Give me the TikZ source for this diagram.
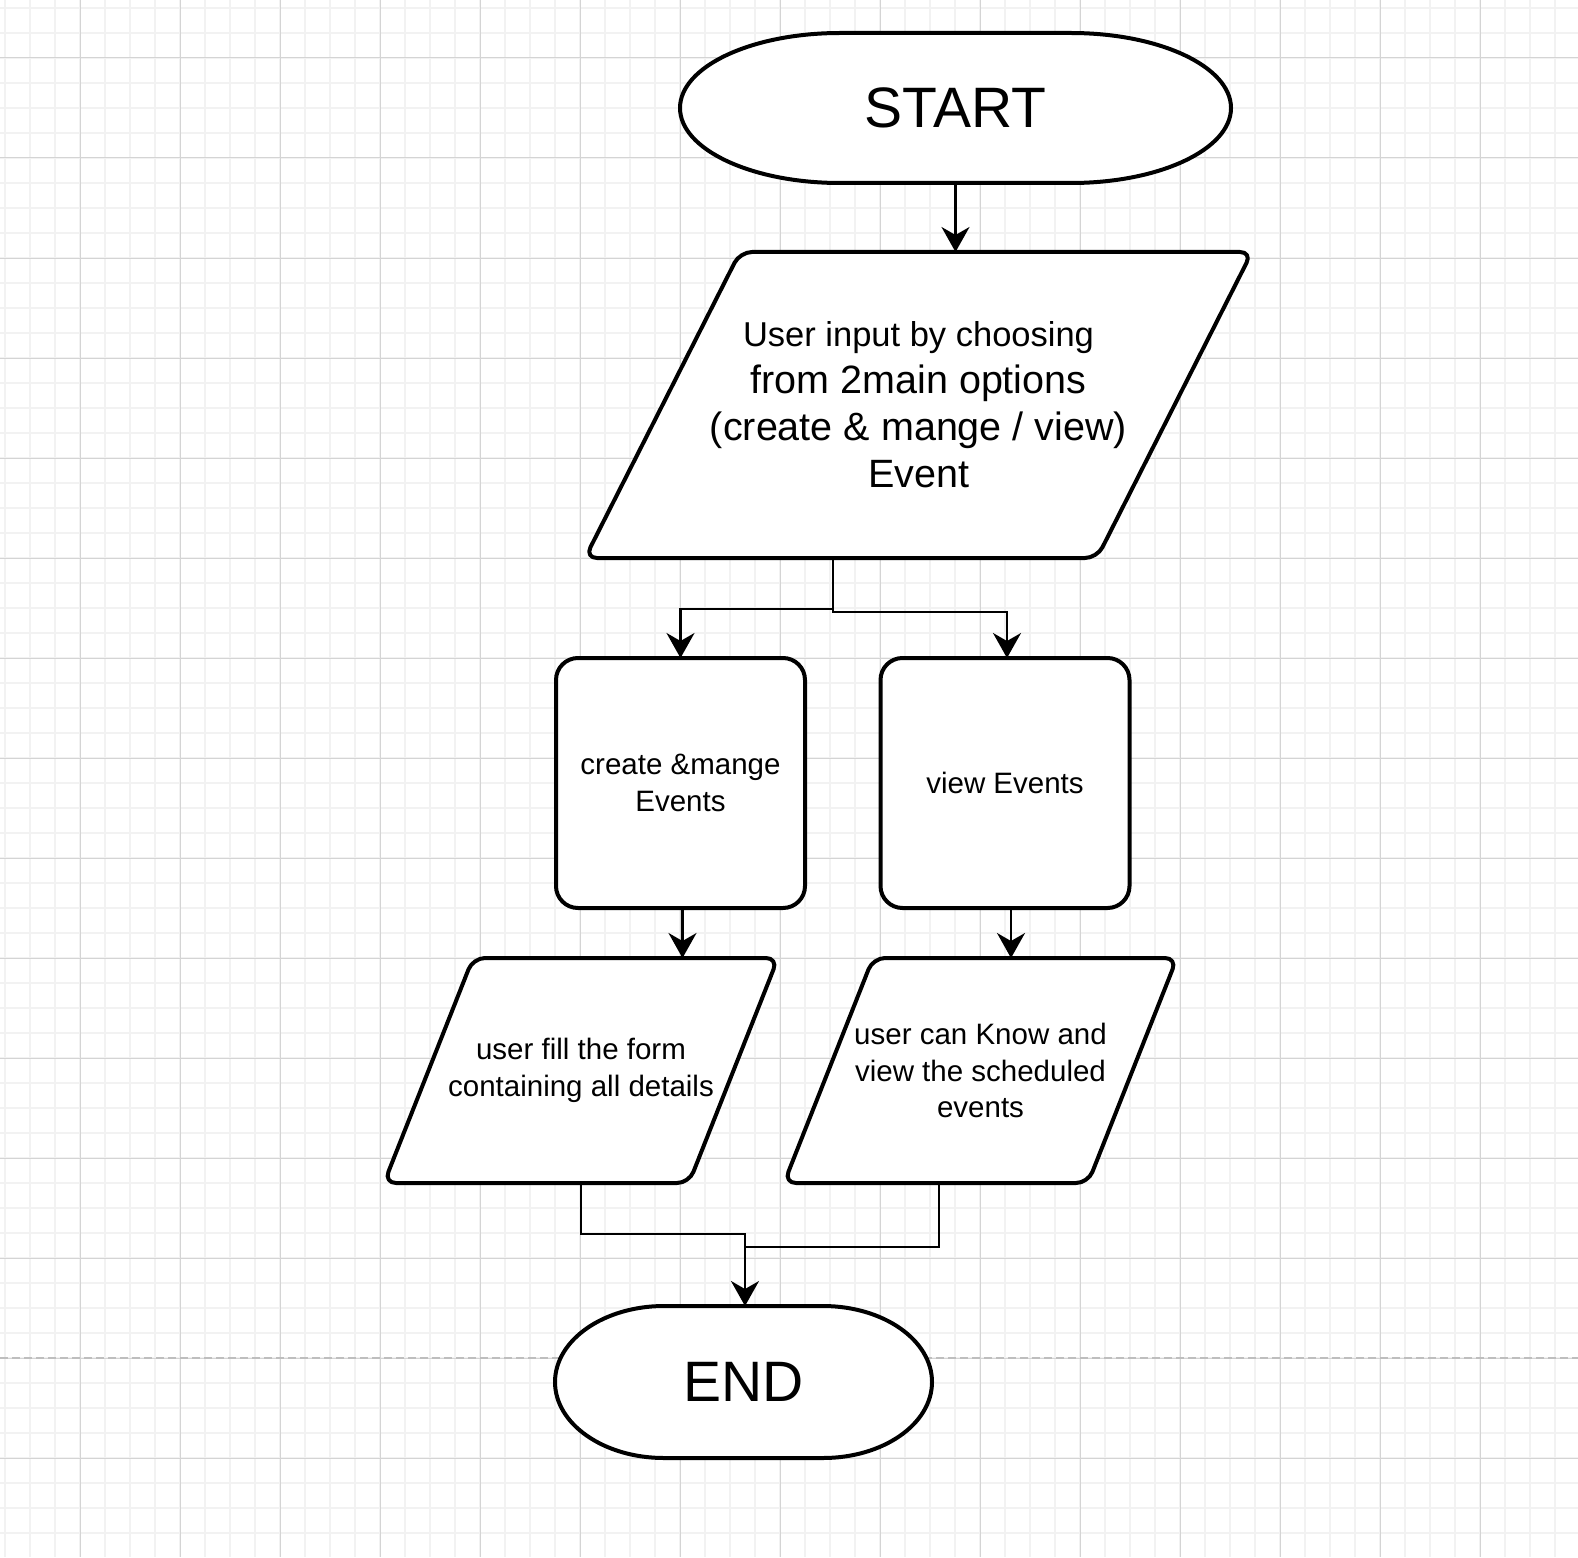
\documentclass[tikz,border=0pt]{standalone}
\usepackage{fontspec}
\setmainfont{Liberation Sans}
\usetikzlibrary{arrows.meta,calc}
\definecolor{gridminor}{RGB}{242,242,242}
\definecolor{gridmajor}{RGB}{212,212,212}
\definecolor{pagebrk}{RGB}{190,190,190}
\begin{document}
\begin{tikzpicture}[x=0.5pt,y=-0.5pt,
  minorline/.style={draw=gridminor, line width=0.75pt},
  majorline/.style={draw=gridmajor, line width=0.5pt},
  shapeline/.style={line width=2pt, draw=black, fill=white, line join=round},
  conn/.style={line width=1.1pt, draw=black},
  arr/.style={conn, -{Stealth[length=12.5pt,width=14pt,inset=4pt]}},
  txt/.style={inner sep=0pt, outer sep=0pt, align=center, font=\fontsize{14.75}{18.25}\selectfont},
  boxst/.style={txt, draw=black, fill=white, line width=2pt, rounded corners=11pt,
                minimum width=124.5pt, minimum height=125pt},
  big/.style={font=\fontsize{28.5}{34}\selectfont}
]
\useasboundingbox (0,0) rectangle (1578,1557);
\fill[white] (0,0) rectangle (1578,1557);
% grid
\foreach \x in {5,30,...,1555} \draw[minorline] (\x,0) -- (\x,1557);
\foreach \y in {8,33,...,1533} \draw[minorline] (0,\y) -- (1578,\y);
\foreach \x in {80,180,...,1480} \draw[majorline] (\x,0) -- (\x,1557);
\foreach \y in {58,158,...,1458} \draw[majorline] (0,\y) -- (1578,\y);
\draw[pagebrk, line width=0.75pt, dash pattern=on 4pt off 2pt] (0,1358) -- (1578,1358);

% START terminator outline
\draw[shapeline] (840,33) -- (1071,33)
  .. controls (1159.4,33) and (1231,66.6) .. (1231,108)
  .. controls (1231,149.4) and (1159.4,183) .. (1071,183)
  -- (840,183)
  .. controls (751.6,183) and (680,149.4) .. (680,108)
  .. controls (680,66.6) and (751.6,33) .. (840,33) -- cycle;
% END terminator outline
\draw[shapeline] (664,1306) -- (823,1306)
  .. controls (883.2,1306) and (932,1340) .. (932,1382)
  .. controls (932,1424) and (883.2,1458) .. (823,1458)
  -- (664,1458)
  .. controls (603.8,1458) and (555,1424) .. (555,1382)
  .. controls (555,1340) and (603.8,1306) .. (664,1306) -- cycle;
% parallelograms
\draw[shapeline, rounded corners=6pt] (585,558) -- (740,252) -- (1252,252) -- (1097,558) -- cycle;
\draw[shapeline, rounded corners=6pt] (384,1183) -- (473,958) -- (778,958) -- (689,1183) -- cycle;
\draw[shapeline, rounded corners=6pt] (784,1183) -- (873,958) -- (1177,958) -- (1088,1183) -- cycle;

% nodes
\node[txt, big, minimum width=275.5pt, minimum height=75pt] (start) at (955.5,108) {START};
\node[txt, big, minimum width=188.5pt, minimum height=76pt] (endn) at (743.5,1382) {END};
\node[txt, minimum width=333.5pt, minimum height=153pt, font=\fontsize{19.75}{23.5}\selectfont] (p1) at (918.5,405)
  {{\fontsize{17.25}{20}\selectfont User input by choosing}\\from 2main options\\(create \& mange / view)\\Event};
\node[boxst] (b1) at (680.5,783) {create \&mange\\Events};
\node[boxst] (b2) at (1005,783) {view Events};
\node[txt, minimum width=197pt, minimum height=112.5pt] (p2) at (581,1070.5) {user fill the form\\containing all details};
\node[txt, minimum width=196.5pt, minimum height=112.5pt] (p3) at (980.5,1070.5) {user can Know and\\view the scheduled\\events};

\coordinate (p1out) at (833,558);
\coordinate (p3out) at (939,1183);

% connectors
\draw[arr] (start.south) -- (start.south |- p1.north);
\draw[arr] (p1out) -- ++(0,51) -| (b1.north);
\draw[arr] (p1out) -- ++(0,54) -| ([xshift=1pt]b2.north);
\draw[arr] ([xshift=1pt]b1.south) -- ([xshift=1pt]b1.south |- p2.north);
\draw[arr] ([xshift=3pt]b2.south) -- ([xshift=3pt]b2.south |- p3.north);
\draw[conn] (p2.south) -- ++(0,51) -| ([xshift=0.75pt]endn.north);
\draw[arr] (p3out) -- ++(0,64) -| ([xshift=0.75pt]endn.north);
\end{tikzpicture}
\end{document}
